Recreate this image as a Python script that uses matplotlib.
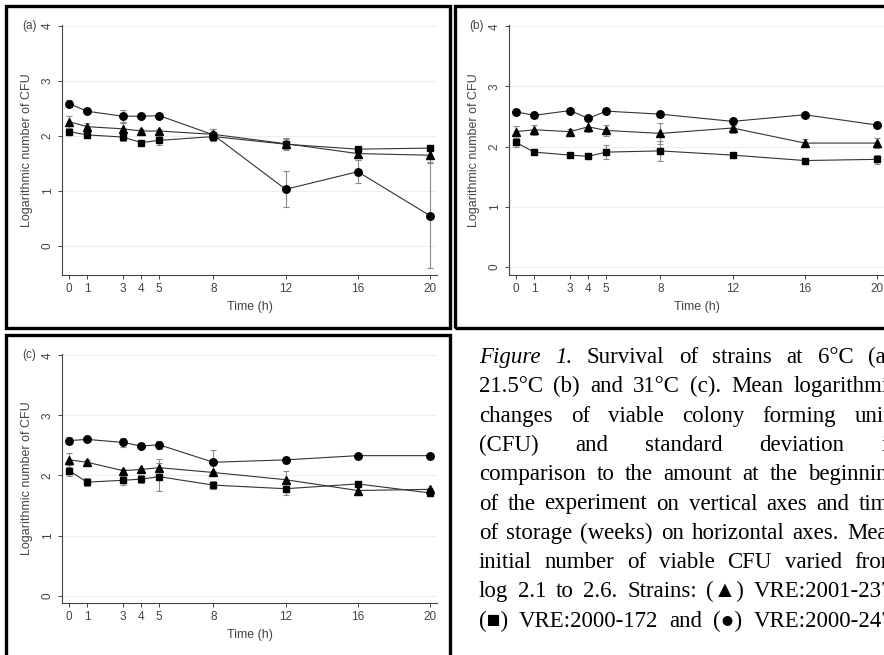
import matplotlib
matplotlib.use("Agg")
from matplotlib import pyplot as plt
from matplotlib.patches import Rectangle

hours = [0, 1, 3, 4, 5, 8, 12, 16, 20]
y_ticks = [0, 1, 2, 3, 4]

# panel (a) 6°C
a_circle = [2.59, 2.45, 2.36, 2.36, 2.37, 2.02, 1.03, 1.35, 0.55]
a_circle_sd = [0.07, 0.03, 0.11, 0.03, 0.05, 0.10, 0.33, 0.21, 0.95]
a_triangle = [2.26, 2.17, 2.13, 2.09, 2.09, 2.03, 1.86, 1.68, 1.65]
a_triangle_sd = [0.11, 0.07, 0.10, 0.03, 0.04, 0.10, 0.10, 0.07, 0.13]
a_square = [2.08, 2.02, 1.98, 1.88, 1.92, 1.99, 1.85, 1.76, 1.78]
a_square_sd = [0.07, 0.05, 0.07, 0.05, 0.08, 0.08, 0.10, 0.04, 0.06]

# panel (b) 21.5°C
b_circle = [2.58, 2.52, 2.60, 2.47, 2.59, 2.54, 2.42, 2.53, 2.36]
b_circle_sd = [0.05, 0.05, 0.04, 0.04, 0.05, 0.04, 0.06, 0.02, 0.04]
b_triangle = [2.25, 2.28, 2.25, 2.33, 2.27, 2.22, 2.31, 2.06, 2.06]
b_triangle_sd = [0.10, 0.08, 0.04, 0.09, 0.09, 0.18, 0.09, 0.06, 0.08]
b_square = [2.07, 1.91, 1.86, 1.84, 1.91, 1.93, 1.86, 1.77, 1.79]
b_square_sd = [0.08, 0.02, 0.02, 0.05, 0.11, 0.16, 0.02, 0.02, 0.07]

# panel (c) 31°C
c_circle = [2.58, 2.60, 2.55, 2.49, 2.51, 2.22, 2.26, 2.33, 2.33]
c_circle_sd = [0.06, 0.02, 0.07, 0.02, 0.07, 0.20, 0.05, 0.02, 0.02]
c_triangle = [2.26, 2.22, 2.08, 2.10, 2.13, 2.05, 1.93, 1.75, 1.77]
c_triangle_sd = [0.12, 0.03, 0.03, 0.03, 0.15, 0.03, 0.14, 0.08, 0.03]
c_square = [2.08, 1.89, 1.92, 1.94, 1.98, 1.84, 1.78, 1.86, 1.71]
c_square_sd = [0.09, 0.06, 0.07, 0.06, 0.23, 0.07, 0.10, 0.04, 0.04]

caption_lines = [
	"Figure 1. Survival of strains at 6°C (a),",
	"21.5°C (b) and 31°C (c). Mean logarithmic",
	"changes of viable colony forming units",
	"(CFU) and standard deviation in",
	"comparison to the amount at the beginning",
	"of the experiment on vertical axes and time",
	"of storage (weeks) on horizontal axes. Mean",
	"initial number of viable CFU varied from",
	"log 2.1 to 2.6. Strains: (▲) VRE:2001-237,",
	"(■) VRE:2000-172 and (●) VRE:2000-247.",
]

W, H = 884, 655
fig = plt.figure(figsize=(W / 100, H / 100), dpi=100)
plt.rcParams['font.family'] = ['Liberation Sans', 'DejaVu Sans']


def px(x0, y_top, x1, y_bottom):
	# pixel box (from top left) -> figure fraction [left, bottom, width, height]
	return [x0 / W, 1 - y_bottom / H, (x1 - x0) / W, (y_bottom - y_top) / H]


def panel(rect, label, ylim, circle, circle_sd, triangle, triangle_sd, square, square_sd):
	ax = fig.add_axes(rect)
	for vals, sd in [(circle, circle_sd), (triangle, triangle_sd), (square, square_sd)]:
		ax.errorbar(hours, vals, yerr=sd, fmt='none', ecolor='#8a8a8a', elinewidth=0.8,
			capsize=2.5, capthick=0.8, zorder=2)
	ax.plot(hours, circle, color='#333333', lw=0.8, marker='o', ms=5.4, mfc='black', mec='black', zorder=3)
	ax.plot(hours, triangle, color='#333333', lw=0.8, marker='^', ms=5.6, mfc='black', mec='black', zorder=3)
	ax.plot(hours, square, color='#333333', lw=0.8, marker='s', ms=4.5, mfc='black', mec='black', zorder=3)

	ax.set_xlim(-0.39, 20.39)
	ax.set_ylim(*ylim)
	ax.set_xticks(hours)
	ax.set_xticklabels([f"{h}" for h in hours])
	ax.set_yticks(y_ticks)
	ax.set_yticklabels([f"{v}" for v in y_ticks], rotation=90, va='center')
	ax.tick_params(labelsize=8.5, colors='#444444', length=3, width=0.7, pad=3)
	ax.grid(axis='y', color='#eeeeee', lw=0.8)
	ax.set_axisbelow(True)
	for s in ['top', 'right']:
		ax.spines[s].set_visible(False)
	for s in ['left', 'bottom']:
		ax.spines[s].set_color('#444444')
		ax.spines[s].set_linewidth(0.8)
	ax.set_xlabel("Time (h)", fontsize=9, color='#444444', labelpad=4)
	ax.set_ylabel("Logarithmic number of CFU", fontsize=9, color='#444444', labelpad=6)
	fig.text(rect[0] - 0.045, rect[1] + rect[3] - 0.002, label, fontsize=8.5, color='#444444',
		ha='left', va='center')
	return ax


panel(px(62, 25, 437, 275), "(a)", (-0.53, 4.02), a_circle, a_circle_sd, a_triangle, a_triangle_sd, a_square, a_square_sd)
panel(px(509, 25, 884, 275), "(b)", (-0.13, 4.02), b_circle, b_circle_sd, b_triangle, b_triangle_sd, b_square, b_square_sd)
panel(px(62, 354, 437, 603), "(c)", (-0.12, 4.02), c_circle, c_circle_sd, c_triangle, c_triangle_sd, c_square, c_square_sd)

# black frames round the panels
for x0, y0, x1, y1 in [(6, 6, 450, 328), (455, 6, 900, 328), (6, 335, 450, 680)]:
	fig.patches.append(Rectangle((x0 / W, 1 - y1 / H), (x1 - x0) / W, (y1 - y0) / H,
		transform=fig.transFigure, fill=False, ec='black', lw=2.4))

# justified caption, word by word
renderer = fig.canvas.get_renderer()
left, right = 479, 899
serif = ['Liberation Serif', 'DejaVu Serif']
for i, line in enumerate(caption_lines):
	y = 1 - (363 + i * 29.3) / H
	words = line.split(" ")
	texts = []
	for j, w in enumerate(words):
		style = 'italic' if i == 0 and j < 2 else 'normal'
		t = fig.text(0, y, w, fontsize=16.5, family=serif, style=style, va='baseline', ha='left')
		texts.append(t)
	widths = [t.get_window_extent(renderer).width for t in texts]
	gap = (right - left - sum(widths)) / (len(words) - 1)
	x = left
	for t, wd in zip(texts, widths):
		t.set_x(x / W)
		x += wd + gap

fig.savefig("out.png", dpi=100)
